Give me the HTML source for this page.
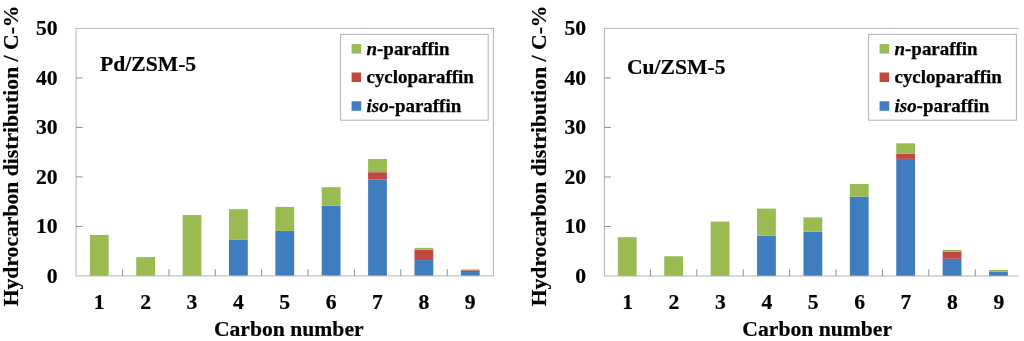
<!DOCTYPE html>
<html lang="en"><head><meta charset="utf-8"><title>Hydrocarbon distribution</title>
<style>
html,body{margin:0;padding:0;background:#fff;}
body{width:1024px;height:341px;overflow:hidden;}
svg{display:block;}
text{font-family:"Liberation Serif", "Times New Roman", serif;font-weight:bold;fill:#000;stroke:#000;stroke-width:0.2px;}
.t20{font-size:21.65px;}
.t21{font-size:21.65px;}
.t18{font-size:18.95px;stroke-width:0.25px;}
</style></head><body>
<svg width="1024" height="341" viewBox="0 0 1024 341">
<rect width="1024" height="341" fill="#fff"/>
<line x1="76.1" y1="28.4" x2="493.4" y2="28.4" stroke="#b3b3b3" stroke-width="1"/>
<line x1="76.1" y1="27.9" x2="76.1" y2="276.4" stroke="#b3b3b3" stroke-width="1"/>
<line x1="493.4" y1="27.9" x2="493.4" y2="276.4" stroke="#b3b3b3" stroke-width="1"/>
<rect x="89.88" y="234.90" width="18.8" height="41.00" fill="#99BB52"/>
<rect x="136.25" y="257.10" width="18.8" height="18.80" fill="#99BB52"/>
<rect x="182.62" y="215.00" width="18.8" height="60.90" fill="#99BB52"/>
<rect x="228.99" y="239.50" width="18.8" height="36.40" fill="#407DBE"/>
<rect x="228.99" y="209.20" width="18.8" height="30.30" fill="#99BB52"/>
<rect x="275.37" y="230.90" width="18.8" height="45.00" fill="#407DBE"/>
<rect x="275.37" y="206.90" width="18.8" height="24.00" fill="#99BB52"/>
<rect x="321.74" y="205.70" width="18.8" height="70.20" fill="#407DBE"/>
<rect x="321.74" y="187.20" width="18.8" height="18.50" fill="#99BB52"/>
<rect x="368.11" y="179.40" width="18.8" height="96.50" fill="#407DBE"/>
<rect x="368.11" y="172.20" width="18.8" height="7.20" fill="#C24642"/>
<rect x="368.11" y="159.00" width="18.8" height="13.20" fill="#99BB52"/>
<rect x="414.48" y="260.10" width="18.8" height="15.80" fill="#407DBE"/>
<rect x="414.48" y="249.80" width="18.8" height="10.30" fill="#C24642"/>
<rect x="414.48" y="247.90" width="18.8" height="1.90" fill="#99BB52"/>
<rect x="460.85" y="272.00" width="18.8" height="3.90" fill="#407DBE"/>
<rect x="460.85" y="270.30" width="18.8" height="1.70" fill="#C24642"/>
<rect x="460.85" y="269.40" width="18.8" height="0.90" fill="#99BB52"/>
<line x1="76.1" y1="275.9" x2="493.4" y2="275.9" stroke="#b3b3b3" stroke-width="1"/>
<line x1="122.57" y1="275.9" x2="122.57" y2="269.30" stroke="#8e8e8e" stroke-width="1"/>
<line x1="168.94" y1="275.9" x2="168.94" y2="269.30" stroke="#8e8e8e" stroke-width="1"/>
<line x1="215.31" y1="275.9" x2="215.31" y2="269.30" stroke="#8e8e8e" stroke-width="1"/>
<line x1="261.68" y1="275.9" x2="261.68" y2="269.30" stroke="#8e8e8e" stroke-width="1"/>
<line x1="308.05" y1="275.9" x2="308.05" y2="269.30" stroke="#8e8e8e" stroke-width="1"/>
<line x1="354.42" y1="275.9" x2="354.42" y2="269.30" stroke="#8e8e8e" stroke-width="1"/>
<line x1="400.79" y1="275.9" x2="400.79" y2="269.30" stroke="#8e8e8e" stroke-width="1"/>
<line x1="447.16" y1="275.9" x2="447.16" y2="269.30" stroke="#8e8e8e" stroke-width="1"/>
<text x="57.60" y="282.90" text-anchor="end" class="t20">0</text>
<line x1="76.1" y1="226.40" x2="82.6" y2="226.40" stroke="#8e8e8e" stroke-width="1"/>
<text x="57.60" y="233.40" text-anchor="end" class="t20">10</text>
<line x1="76.1" y1="176.90" x2="82.6" y2="176.90" stroke="#8e8e8e" stroke-width="1"/>
<text x="57.60" y="183.90" text-anchor="end" class="t20">20</text>
<line x1="76.1" y1="127.40" x2="82.6" y2="127.40" stroke="#8e8e8e" stroke-width="1"/>
<text x="57.60" y="134.40" text-anchor="end" class="t20">30</text>
<line x1="76.1" y1="77.90" x2="82.6" y2="77.90" stroke="#8e8e8e" stroke-width="1"/>
<text x="57.60" y="84.90" text-anchor="end" class="t20">40</text>
<text x="57.60" y="35.40" text-anchor="end" class="t20">50</text>
<text x="99.28" y="308.5" text-anchor="middle" class="t20">1</text>
<text x="145.65" y="308.5" text-anchor="middle" class="t20">2</text>
<text x="192.02" y="308.5" text-anchor="middle" class="t20">3</text>
<text x="238.39" y="308.5" text-anchor="middle" class="t20">4</text>
<text x="284.76" y="308.5" text-anchor="middle" class="t20">5</text>
<text x="331.13" y="308.5" text-anchor="middle" class="t20">6</text>
<text x="377.50" y="308.5" text-anchor="middle" class="t20">7</text>
<text x="423.88" y="308.5" text-anchor="middle" class="t20">8</text>
<text x="470.25" y="308.5" text-anchor="middle" class="t20">9</text>
<text x="288.76" y="335.7" text-anchor="middle" class="t21">Carbon number</text>
<text transform="translate(17.60,155.9) rotate(-90)" text-anchor="middle" class="t21">Hydrocarbon distribution / C-%</text>
<text x="100" y="71" class="t21">Pd/ZSM-5</text>
<rect x="340.6" y="34.4" width="147.59999999999997" height="85.8" fill="none" stroke="#b3b3b3" stroke-width="1"/>
<rect x="351.60" y="44.1" width="9.6" height="9.5" fill="#99BB52"/>
<text x="366.50" y="54.7" class="t18"><tspan font-style="italic">n</tspan>-paraffin</text>
<rect x="351.60" y="72.5" width="9.6" height="9.5" fill="#C24642"/>
<text x="366.50" y="82.5" class="t18">cycloparaffin</text>
<rect x="351.60" y="101.3" width="9.6" height="9.5" fill="#407DBE"/>
<text x="366.50" y="111.7" class="t18"><tspan font-style="italic">iso</tspan>-paraffin</text>
<line x1="604.4" y1="28.4" x2="1018.8" y2="28.4" stroke="#b3b3b3" stroke-width="1"/>
<line x1="604.4" y1="27.9" x2="604.4" y2="276.5" stroke="#b3b3b3" stroke-width="1"/>
<rect x="617.85" y="237.20" width="18.8" height="38.80" fill="#99BB52"/>
<rect x="664.25" y="256.30" width="18.8" height="19.70" fill="#99BB52"/>
<rect x="710.65" y="221.60" width="18.8" height="54.40" fill="#99BB52"/>
<rect x="757.05" y="235.70" width="18.8" height="40.30" fill="#407DBE"/>
<rect x="757.05" y="208.60" width="18.8" height="27.10" fill="#99BB52"/>
<rect x="803.45" y="231.60" width="18.8" height="44.40" fill="#407DBE"/>
<rect x="803.45" y="217.40" width="18.8" height="14.20" fill="#99BB52"/>
<rect x="849.85" y="196.70" width="18.8" height="79.30" fill="#407DBE"/>
<rect x="849.85" y="184.00" width="18.8" height="12.70" fill="#99BB52"/>
<rect x="896.25" y="158.90" width="18.8" height="117.10" fill="#407DBE"/>
<rect x="896.25" y="153.80" width="18.8" height="5.10" fill="#C24642"/>
<rect x="896.25" y="143.30" width="18.8" height="10.50" fill="#99BB52"/>
<rect x="942.65" y="258.80" width="18.8" height="17.20" fill="#407DBE"/>
<rect x="942.65" y="251.70" width="18.8" height="7.10" fill="#C24642"/>
<rect x="942.65" y="250.00" width="18.8" height="1.70" fill="#99BB52"/>
<rect x="989.05" y="271.50" width="18.8" height="4.50" fill="#407DBE"/>
<rect x="989.05" y="270.00" width="18.8" height="1.50" fill="#99BB52"/>
<line x1="604.4" y1="276.0" x2="1018.8" y2="276.0" stroke="#b3b3b3" stroke-width="1"/>
<line x1="650.45" y1="276.0" x2="650.45" y2="269.40" stroke="#8e8e8e" stroke-width="1"/>
<line x1="696.85" y1="276.0" x2="696.85" y2="269.40" stroke="#8e8e8e" stroke-width="1"/>
<line x1="743.25" y1="276.0" x2="743.25" y2="269.40" stroke="#8e8e8e" stroke-width="1"/>
<line x1="789.65" y1="276.0" x2="789.65" y2="269.40" stroke="#8e8e8e" stroke-width="1"/>
<line x1="836.05" y1="276.0" x2="836.05" y2="269.40" stroke="#8e8e8e" stroke-width="1"/>
<line x1="882.45" y1="276.0" x2="882.45" y2="269.40" stroke="#8e8e8e" stroke-width="1"/>
<line x1="928.85" y1="276.0" x2="928.85" y2="269.40" stroke="#8e8e8e" stroke-width="1"/>
<line x1="975.25" y1="276.0" x2="975.25" y2="269.40" stroke="#8e8e8e" stroke-width="1"/>
<text x="586.20" y="283.00" text-anchor="end" class="t20">0</text>
<line x1="604.4" y1="226.48" x2="610.9" y2="226.48" stroke="#8e8e8e" stroke-width="1"/>
<text x="586.20" y="233.48" text-anchor="end" class="t20">10</text>
<line x1="604.4" y1="176.96" x2="610.9" y2="176.96" stroke="#8e8e8e" stroke-width="1"/>
<text x="586.20" y="183.96" text-anchor="end" class="t20">20</text>
<line x1="604.4" y1="127.44" x2="610.9" y2="127.44" stroke="#8e8e8e" stroke-width="1"/>
<text x="586.20" y="134.44" text-anchor="end" class="t20">30</text>
<line x1="604.4" y1="77.92" x2="610.9" y2="77.92" stroke="#8e8e8e" stroke-width="1"/>
<text x="586.20" y="84.92" text-anchor="end" class="t20">40</text>
<text x="586.20" y="35.40" text-anchor="end" class="t20">50</text>
<text x="627.60" y="308.5" text-anchor="middle" class="t20">1</text>
<text x="674.00" y="308.5" text-anchor="middle" class="t20">2</text>
<text x="720.40" y="308.5" text-anchor="middle" class="t20">3</text>
<text x="766.80" y="308.5" text-anchor="middle" class="t20">4</text>
<text x="813.20" y="308.5" text-anchor="middle" class="t20">5</text>
<text x="859.60" y="308.5" text-anchor="middle" class="t20">6</text>
<text x="906.00" y="308.5" text-anchor="middle" class="t20">7</text>
<text x="952.40" y="308.5" text-anchor="middle" class="t20">8</text>
<text x="998.80" y="308.5" text-anchor="middle" class="t20">9</text>
<text x="817.20" y="335.7" text-anchor="middle" class="t21">Carbon number</text>
<text transform="translate(545.90,155.9) rotate(-90)" text-anchor="middle" class="t21">Hydrocarbon distribution / C-%</text>
<text x="626.9" y="73.8" class="t21">Cu/ZSM-5</text>
<rect x="868.6" y="34.4" width="147.79999999999995" height="85.8" fill="none" stroke="#b3b3b3" stroke-width="1"/>
<rect x="879.60" y="44.1" width="9.6" height="9.5" fill="#99BB52"/>
<text x="894.50" y="54.7" class="t18"><tspan font-style="italic">n</tspan>-paraffin</text>
<rect x="879.60" y="72.5" width="9.6" height="9.5" fill="#C24642"/>
<text x="894.50" y="82.5" class="t18">cycloparaffin</text>
<rect x="879.60" y="101.3" width="9.6" height="9.5" fill="#407DBE"/>
<text x="894.50" y="111.7" class="t18"><tspan font-style="italic">iso</tspan>-paraffin</text>
</svg>
</body></html>
